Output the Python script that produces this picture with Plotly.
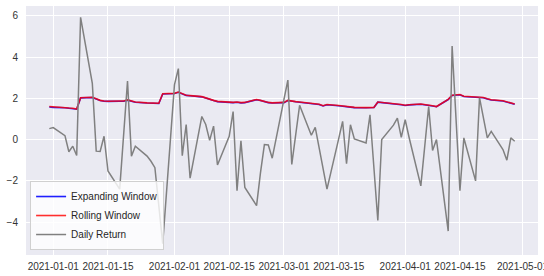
import plotly.graph_objects as go
import pandas as pd

dates = [
    "2020-12-31", "2021-01-01", "2021-01-04", "2021-01-05", "2021-01-06", "2021-01-07", "2021-01-08",
    "2021-01-11", "2021-01-12", "2021-01-13", "2021-01-14", "2021-01-15",
    "2021-01-18", "2021-01-19", "2021-01-20", "2021-01-21", "2021-01-22",
    "2021-01-25", "2021-01-26", "2021-01-27", "2021-01-28", "2021-01-29",
    "2021-02-01", "2021-02-02", "2021-02-03", "2021-02-04", "2021-02-05",
    "2021-02-08", "2021-02-09", "2021-02-10", "2021-02-11", "2021-02-12",
    "2021-02-15", "2021-02-16", "2021-02-17", "2021-02-18", "2021-02-19",
    "2021-02-22", "2021-02-23", "2021-02-24", "2021-02-25", "2021-02-26",
    "2021-03-01", "2021-03-02", "2021-03-03", "2021-03-04", "2021-03-05",
    "2021-03-08", "2021-03-09", "2021-03-10", "2021-03-11", "2021-03-12",
    "2021-03-15", "2021-03-16", "2021-03-17", "2021-03-18", "2021-03-19",
    "2021-03-22", "2021-03-23", "2021-03-24", "2021-03-25", "2021-03-26",
    "2021-03-29", "2021-03-30", "2021-03-31", "2021-04-01", "2021-04-02",
    "2021-04-05", "2021-04-06", "2021-04-07", "2021-04-08", "2021-04-09",
    "2021-04-12", "2021-04-13", "2021-04-14", "2021-04-15", "2021-04-16",
    "2021-04-19", "2021-04-20", "2021-04-21", "2021-04-22", "2021-04-23",
    "2021-04-26", "2021-04-27", "2021-04-28", "2021-04-29",
]

daily_return = [
    0.53, 0.58, 0.19, -0.59, -0.32, -0.77, 5.92,
    2.72, -0.56, -0.58, 0.16, -1.52,
    -2.40, 0.20, 2.83, -0.80, -0.32,
    -0.80, -1.05, -1.36, -3.20, -5.04,
    2.65, 3.44, -0.78, 0.73, -1.87,
    1.12, 0.73, -0.04, 0.65, -1.23,
    0.16, 1.36, -2.48, -0.06, -2.32,
    -3.20, -1.60, -0.24, -0.26, -0.90,
    1.95, 2.88, -1.20, 0.20, 1.66,
    0.21, 0.59, -0.40, -1.40, -2.40,
    0.05, 0.88, -1.17, 0.72, 0.03,
    -0.16, 1.20, -1.36, -3.92, 0.00,
    0.70, 1.04, 0.11, 0.96, 0.10,
    -2.24, -0.32, 1.60, -0.53, 0.00,
    -4.43, 4.53, 1.00, -2.48, 0.08,
    -2.00, 2.03, 1.00, 0.08, 0.40,
    -0.48, -1.00, 0.08, -0.08,
]

rolling_window = [
    1.60, 1.58, 1.55, 1.53, 1.52, 1.48, 2.03,
    2.05, 1.98, 1.90, 1.87, 1.86,
    1.87, 1.87, 1.92, 1.86, 1.82,
    1.78, 1.77, 1.76, 1.76, 2.22,
    2.24, 2.30, 2.22, 2.15, 2.13,
    2.08, 2.02, 1.95, 1.90, 1.85,
    1.80, 1.80, 1.82, 1.79, 1.80,
    1.94, 1.90, 1.84, 1.80, 1.78,
    1.80, 1.90, 1.86, 1.84, 1.82,
    1.77, 1.75, 1.71, 1.64, 1.70,
    1.65, 1.63, 1.60, 1.57, 1.56,
    1.55, 1.55, 1.56, 1.82, 1.80,
    1.77, 1.75, 1.70, 1.66, 1.69,
    1.72, 1.70, 1.67, 1.64, 1.60,
    1.95, 2.15, 2.18, 2.18, 2.10,
    2.08, 2.06, 2.04, 1.98, 1.93,
    1.88, 1.82, 1.78, 1.72,
]

expanding_window = [
    1.58, 1.56, 1.54, 1.52, 1.51, 1.47, 2.02,
    2.04, 1.97, 1.89, 1.86, 1.85,
    1.86, 1.86, 1.91, 1.85, 1.81,
    1.77, 1.76, 1.75, 1.75, 2.21,
    2.23, 2.29, 2.21, 2.14, 2.12,
    2.07, 2.01, 1.94, 1.89, 1.84,
    1.79, 1.79, 1.81, 1.78, 1.79,
    1.93, 1.89, 1.83, 1.79, 1.77,
    1.79, 1.89, 1.85, 1.83, 1.81,
    1.76, 1.74, 1.70, 1.63, 1.69,
    1.64, 1.62, 1.59, 1.56, 1.55,
    1.54, 1.54, 1.55, 1.81, 1.79,
    1.76, 1.74, 1.69, 1.65, 1.68,
    1.71, 1.69, 1.66, 1.63, 1.59,
    1.94, 2.14, 2.17, 2.17, 2.09,
    2.07, 2.05, 2.03, 1.97, 1.92,
    1.87, 1.81, 1.77, 1.71,
]

x_tick_vals = ["2021-01-01", "2021-01-15", "2021-02-01", "2021-02-15", "2021-03-01",
               "2021-03-15", "2021-04-01", "2021-04-15", "2021-05-01"]
x_tick_text = ["2021-01-01", "2021-01-15", "2021-02-01", "2021-02-15", "2021-03-01",
               "2021-03-15", "2021-04-01", "2021-04-15", "2021-05-01"]
y_tick_vals = [-4, -2, 0, 2, 4, 6]

x = pd.to_datetime(dates)

fig = go.Figure()
fig.add_trace(go.Scatter(x=x, y=expanding_window, mode="lines", name="Expanding Window",
                         line=dict(color="#1f1fff", width=1.6)))
fig.add_trace(go.Scatter(x=x, y=rolling_window, mode="lines", name="Rolling Window",
                         line=dict(color="rgba(255,0,0,0.82)", width=1.6)))
fig.add_trace(go.Scatter(x=x, y=daily_return, mode="lines", name="Daily Return",
                         line=dict(color="#808080", width=1.5)))

fig.update_layout(
    width=544, height=276,
    margin=dict(l=26, r=6, t=6, b=21, autoexpand=False),
    paper_bgcolor="white",
    plot_bgcolor="#EAEAF2",
    font=dict(family="Liberation Sans, Arial, sans-serif", size=10, color="#333333"),
    showlegend=True,
    legend=dict(
        x=0.008, y=0.02, xanchor="left", yanchor="bottom",
        bgcolor="rgba(255,255,255,0.8)", bordercolor="#d0d0d0", borderwidth=1,
        font=dict(size=10, color="#262626"),
        tracegroupgap=0, itemwidth=30,
    ),
)
fig.update_xaxes(
    range=["2020-12-25 01:00", "2021-05-04 23:00"],
    tickvals=pd.to_datetime(x_tick_vals), ticktext=x_tick_text,
    showgrid=True, gridcolor="white", gridwidth=1, zeroline=False,
    showline=False, ticks="", ticklabelstandoff=4, ticklabeloverflow="allow",
    tickangle=0, automargin=False,
)
fig.update_yaxes(
    range=[-5.59, 6.47], tickvals=y_tick_vals,
    showgrid=True, gridcolor="white", gridwidth=1, zeroline=False,
    showline=False, ticks="", ticklabelstandoff=7, automargin=False,
)

fig.write_html("out.html", config={"displayModeBar": False})

# remove the default page margin so the figure sits at the window's top-left corner
with open("out.html", "r", encoding="utf-8") as f:
    html = f.read()
html = html.replace("<body>", '<body style="margin:0;padding:0;overflow:hidden;">', 1)
with open("out.html", "w", encoding="utf-8") as f:
    f.write(html)
